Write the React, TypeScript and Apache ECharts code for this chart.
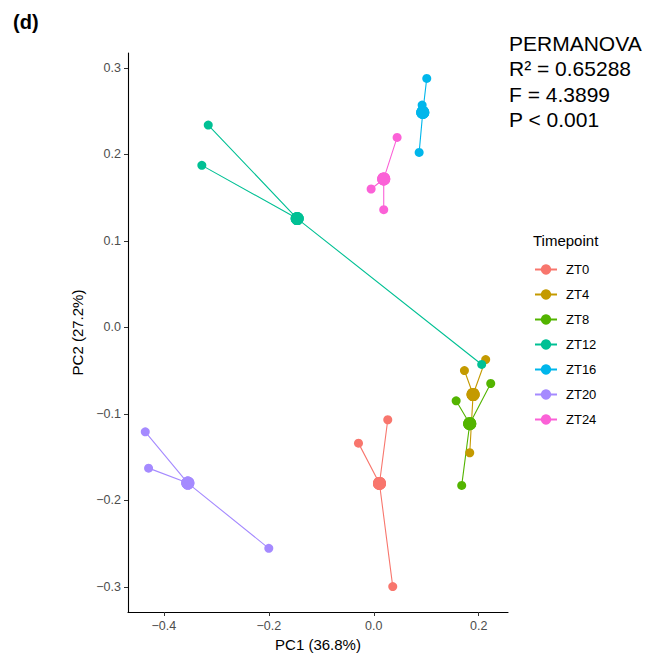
import React, { useEffect, useRef } from "react";
import * as echarts from "echarts";

const groups = ["ZT0", "ZT4", "ZT8", "ZT12", "ZT16", "ZT20", "ZT24"];
const groupColors = ["#F8766D", "#C49A00", "#53B400", "#00C094", "#00B6EB", "#A58AFF", "#FB61D7"];

// sample coordinates [PC1, PC2] per timepoint
const zt0Samples = [[0.0267, -0.1067], [-0.0291, -0.1337], [0.0362, -0.2995]];
const zt4Samples = [[0.2133, -0.0371], [0.1728, -0.0498], [0.1829, -0.1448]];
const zt8Samples = [[0.2229, -0.0648], [0.157, -0.0848], [0.1676, -0.1826]];
const zt12Samples = [[-0.3154, 0.2339], [-0.3276, 0.1873], [0.2057, -0.0428]];
const zt16Samples = [[0.101, 0.2878], [0.0922, 0.257], [0.0865, 0.2023]];
const zt20Samples = [[-0.4354, -0.1206], [-0.4291, -0.1626], [-0.2, -0.2553]];
const zt24Samples = [[0.0445, 0.2196], [-0.005, 0.16], [0.019, 0.1361]];

// group centroids [PC1, PC2]
const centroids = [
  [0.0109, -0.1803],
  [0.1893, -0.0775],
  [0.1829, -0.1113],
  [-0.1459, 0.1258],
  [0.0934, 0.2485],
  [-0.3543, -0.1799],
  [0.019, 0.1716],
];

const xTicks = [-0.4, -0.2, 0.0, 0.2];
const yTicks = [-0.3, -0.2, -0.1, 0.0, 0.1, 0.2, 0.3];

const statLines = ["PERMANOVA", "R\u00B2 = 0.65288", "F = 4.3899", "P < 0.001"];

const samplesByGroup = [zt0Samples, zt4Samples, zt8Samples, zt12Samples, zt16Samples, zt20Samples, zt24Samples];

const FONT = "'Liberation Sans', Arial, Helvetica, sans-serif";

function fmt(v: number) {
  return v.toFixed(1).replace("-", "\u2212");
}

export default function App() {
  const ref = useRef<HTMLDivElement>(null);
  useEffect(() => {
    if (!ref.current) return;
    const chart = echarts.init(ref.current, undefined, { renderer: "svg" });

    const allX: number[] = [];
    const allY: number[] = [];
    samplesByGroup.forEach((g) => g.forEach((p) => { allX.push(p[0]); allY.push(p[1]); }));
    const xr = Math.max(...allX) - Math.min(...allX);
    const yr = Math.max(...allY) - Math.min(...allY);
    const xMin = Math.min(...allX) - 0.05 * xr;
    const xMax = Math.max(...allX) + 0.05 * xr;
    const yMin = Math.min(...allY) - 0.05 * yr;
    const yMax = Math.max(...allY) + 0.05 * yr;

    const series = groups.map((name, i) => {
      const c = centroids[i];
      const data: number[][] = [];
      samplesByGroup[i].forEach((p) => { data.push(c); data.push(p); });
      return {
        name,
        type: "line",
        data,
        symbol: "circle",
        showSymbol: true,
        symbolSize: (_v: any, params: any) => (params.dataIndex % 2 === 0 ? 13 : 9),
        itemStyle: { color: groupColors[i] },
        lineStyle: { color: groupColors[i], width: 1.1 },
        emphasis: { disabled: true },
        z: 2,
      };
    });

    const axisCommon = {
      axisLine: { show: true, onZero: false, lineStyle: { color: "#000", width: 1.1 } },
      splitLine: { show: false },
    };

    chart.setOption({
      animation: false,
      backgroundColor: "#fff",
      textStyle: { fontFamily: FONT },
      grid: { left: 128, right: 150, top: 53, bottom: 45, containLabel: false },
      xAxis: {
        type: "value",
        min: xMin,
        max: xMax,
        ...axisCommon,
        name: "PC1 (36.8%)",
        nameLocation: "middle",
        nameGap: 13,
        nameTextStyle: { fontSize: 15, color: "#000", fontFamily: FONT, verticalAlign: "top" },
        axisTick: { show: true, length: 4, lineStyle: { color: "#333" }, customValues: xTicks },
        axisLabel: { show: true, customValues: xTicks, formatter: (v: number) => fmt(v), fontSize: 12.5, color: "#4D4D4D", margin: 7, fontFamily: FONT },
      },
      yAxis: {
        type: "value",
        min: yMin,
        max: yMax,
        ...axisCommon,
        name: "PC2 (27.2%)",
        nameLocation: "middle",
        nameGap: 33,
        nameRotate: 90,
        nameTextStyle: { fontSize: 15, color: "#000", fontFamily: FONT },
        axisTick: { show: true, length: 4, lineStyle: { color: "#333" }, customValues: yTicks },
        axisLabel: { show: true, customValues: yTicks, formatter: (v: number) => fmt(v), fontSize: 12.5, color: "#4D4D4D", margin: 7, fontFamily: FONT },
      },
      legend: {
        orient: "vertical",
        left: 529,
        top: 258,
        itemWidth: 22,
        itemHeight: 13,
        itemGap: 12,
        data: groups,
        textStyle: { fontSize: 13, color: "#000", fontFamily: FONT, padding: [0, 0, 0, 4] },
        selectedMode: false,
      },
      graphic: [
        {
          type: "text",
          left: 533,
          top: 233,
          style: { text: "Timepoint", fontSize: 15, fill: "#000", fontFamily: FONT },
        },
        {
          type: "text",
          left: 509,
          top: 31,
          style: { text: statLines.join("\n"), fontSize: 21, lineHeight: 25.3, fill: "#000", fontFamily: FONT },
        },
        {
          type: "text",
          left: 13,
          top: 12,
          style: { text: "(d)", fontSize: 20, fontWeight: "bold", fill: "#000", fontFamily: FONT },
        },
      ],
      series,
    });
    return () => chart.dispose();
  }, []);
  return <div ref={ref} style={{ position: "fixed", left: 0, top: 0, width: 658, height: 657 }} />;
}
